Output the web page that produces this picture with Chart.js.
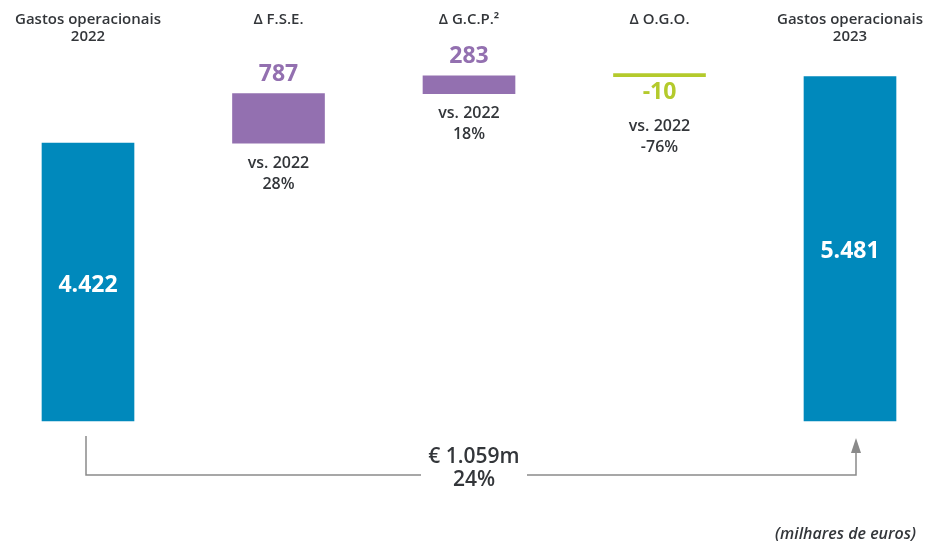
<!DOCTYPE html>
<html>
<head>
<meta charset="utf-8">
<script src="https://cdn.jsdelivr.net/npm/chart.js@4"></script>
<style>
  html, body { margin: 0; padding: 0; background: #fff; }
  canvas { display: block; }
</style>
</head>
<body>
<canvas id="chart" width="925" height="542"></canvas>
<script>
// headings above each column (lines)
const categories = [
    ['Gastos operacionais', '2022'],
    ['\u0394 F.S.E.'],
    ['\u0394 G.C.P.\u00b2'],
    ['\u0394 O.G.O.'],
    ['Gastos operacionais', '2023']
];
const values = [4422, 787, 283, -10, 5481];
const valueLabels = ['4.422', '787', '283', '-10', '5.481'];
const changeLabels = ['', '28%', '18%', '-76%', ''];
const totalChange = '\u20ac 1.059m';
const totalPct = '24%';
const unitNote = '(milhares de euros)';

const BLUE = '#0089bc';
const PURPLE = '#9370b0';
const GREEN = '#b4ca2c';
const TEXT = '#33363a';
const FONT = "'Open Sans', sans-serif";

// floating bars: totals from zero, deltas stacked on the running sum
let running = 0;
const bars = values.map((v, i) => {
    if (i === 0 || i === values.length - 1) {
        running = v;
        return [0, v];
    }
    const start = running;
    running += v;
    return [Math.min(start, running), Math.max(start, running)];
});
const colors = values.map((v, i) => {
    if (i === 0 || i === values.length - 1) return BLUE;
    return v < 0 ? GREEN : PURPLE;
});

const labelPlugin = {
    id: 'labels',
    afterDatasetsDraw(chart) {
        const ctx = chart.ctx;
        const x = chart.scales.x;
        const y = chart.scales.y;
        const last = values.length - 1;
        ctx.save();
        ctx.textAlign = 'center';
        ctx.textBaseline = 'middle';

        categories.forEach((lines, i) => {
            const cx = x.getPixelForValue(i);
            ctx.fillStyle = TEXT;
            ctx.font = '600 15px ' + FONT;
            lines.forEach((t, j) => ctx.fillText(t, cx, 20 + j * 17));

            const top = y.getPixelForValue(bars[i][1]);
            const bottom = y.getPixelForValue(bars[i][0]);

            if (i === 0 || i === last) {
                ctx.fillStyle = '#fff';
                ctx.font = '700 23px ' + FONT;
                ctx.fillText(valueLabels[i], cx, (top + bottom) / 2 + 3);
                return;
            }
            if (values[i] >= 0) {
                ctx.fillStyle = PURPLE;
                ctx.font = '700 23px ' + FONT;
                ctx.fillText(valueLabels[i], cx, top - 19);
                ctx.fillStyle = TEXT;
                ctx.font = '600 16px ' + FONT;
                ctx.fillText('vs. 2022', cx, bottom + 20);
                ctx.fillText(changeLabels[i], cx, bottom + 41);
            } else {
                ctx.fillStyle = GREEN;
                ctx.font = '700 23px ' + FONT;
                ctx.fillText(valueLabels[i], cx, bottom + 16);
                ctx.fillStyle = TEXT;
                ctx.font = '600 16px ' + FONT;
                ctx.fillText('vs. 2022', cx, bottom + 50);
                ctx.fillText(changeLabels[i], cx, bottom + 71);
            }
        });

        // bracket from first to last total
        const x0 = x.getPixelForValue(0) - 2;
        const x1 = x.getPixelForValue(last) + 6;
        const base = y.getPixelForValue(0);
        const yLine = base + 54;
        const mid = (x0 + x1) / 2;
        ctx.strokeStyle = '#8a8a8a';
        ctx.lineWidth = 1.5;
        ctx.beginPath();
        ctx.moveTo(x0, base + 15);
        ctx.lineTo(x0, yLine);
        ctx.lineTo(mid - 50, yLine);
        ctx.moveTo(mid + 56, yLine);
        ctx.lineTo(x1, yLine);
        ctx.lineTo(x1, base + 28);
        ctx.stroke();
        ctx.fillStyle = '#8a8a8a';
        ctx.beginPath();
        ctx.moveTo(x1, base + 17);
        ctx.lineTo(x1 - 5, base + 32);
        ctx.lineTo(x1 + 5, base + 32);
        ctx.closePath();
        ctx.fill();

        ctx.fillStyle = TEXT;
        ctx.font = '600 21px ' + FONT;
        ctx.fillText(totalChange, mid + 3, base + 36);
        ctx.fillText(totalPct, mid + 3, base + 59);

        ctx.font = 'italic 600 16px ' + FONT;
        ctx.textAlign = 'right';
        ctx.fillText(unitNote, 916, 534);
        ctx.restore();
    }
};

new Chart(document.getElementById('chart'), {
    type: 'bar',
    data: {
        labels: categories.map(c => c.join(' ')),
        datasets: [{
            data: bars,
            backgroundColor: colors,
            borderWidth: 0,
            minBarLength: 3,
            barThickness: 92,
            clip: false
        }]
    },
    options: {
        responsive: false,
        animation: false,
        layout: { padding: { left: 88, right: 75, top: 44, bottom: 121 } },
        plugins: { legend: { display: false }, tooltip: { enabled: false } },
        scales: {
            x: { type: 'category', offset: false, display: false, grid: { display: false } },
            y: { min: 0, max: 6000, display: false, grid: { display: false } }
        }
    },
    plugins: [labelPlugin]
});
</script>
</body>
</html>
